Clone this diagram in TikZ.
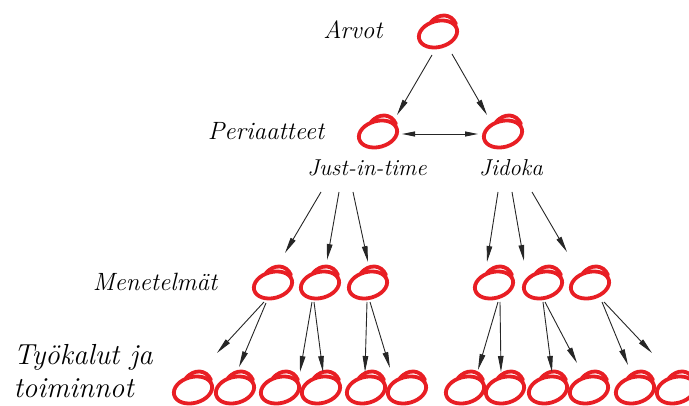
\documentclass[tikz,border=0pt]{standalone}
\usetikzlibrary{arrows.meta,calc,shapes.geometric}
\definecolor{ringred}{RGB}{232,30,36}
\tikzset{
    ringline/.style={draw=ringred,line width=3.8pt,line cap=round},
    ring/.pic={
        \node[ellipse,minimum width=40pt,minimum height=28pt,inner sep=0pt] (-c) {};
        \draw[ringline] (0,1) ellipse [x radius=19.5,y radius=13,rotate=15];
        \draw[ringline] (-7,-11) .. controls (1,-20) and (13,-20) .. (18,-9);
    },
    arr/.style={-{Triangle[length=16pt,width=5.5pt]},line width=0.9pt,draw=black!85},
    lvl/.style={font=\fontsize{25}{32}\selectfont\itshape},
    sublvl/.style={font=\fontsize{23}{28}\selectfont\itshape},
}

\begin{document}
\begin{tikzpicture}[x=1pt,y=-1pt]
    \useasboundingbox (0,0) rectangle (689,406);
    \clip (0,0) rectangle (689,406);

    % tasot
    \node[lvl] (arvot) at (353,30) {Arvot};
    \node[lvl] (periaatteet) at (266,131) {Periaatteet};
    \node[sublvl] (jit) at (367,168) {Just-in-time};
    \node[sublvl] (jidoka) at (511,168) {Jidoka};
    \node[lvl] (menetelmat) at (155,282) {Menetelmät};
    \node[lvl,font=\fontsize{29}{33}\selectfont\itshape,anchor=west,align=left]
        (tyokalut) at (10,371) {Työkalut ja\\toiminnot};

    % renkaat
    \pic (a) at (438,33) {ring};
    \pic (p1) at (378,133) {ring};
    \pic (p2) at (503,133) {ring};
    \foreach \x [count=\i] in {273,320,368,494,543,590}
        \pic (m\i) at (\x,284) {ring};
    \foreach \x [count=\i] in {193,235,280,321,366,407,465,505,548,589,635,676}
        \pic (b\i) at (\x,389) {ring};

    % nuolet
    \draw[arr] ($(a-c)+(-6,22)$) -- ($(p1-c)+(19,-18)$);
    \draw[arr] ($(a-c)+(14,21)$) -- ($(p2-c)+(-16,-18)$);
    \draw[arr,{Triangle[length=13pt,width=5pt]}-{Triangle[length=13pt,width=5pt]}]
        ($(p1-c)+(24,1)$) -- ($(p2-c)+(-25,1)$);

    \draw[arr] ($(jit)+(-46,24)$) -- ($(m1-c)+(12,-31)$);
    \draw[arr] ($(jit)+(-28,24)$) -- ($(m2-c)+(7,-24)$);
    \draw[arr] ($(jit)+(-14,24)$) -- ($(m3-c)+(0,-22)$);
    \draw[arr] ($(jidoka)+(-13,24)$) -- ($(m4-c)+(-7,-22)$);
    \draw[arr] ($(jidoka)+(1,24)$) -- ($(m5-c)+(-19,-23)$);
    \draw[arr] ($(jidoka)+(21,24)$) -- ($(m6-c)+(-23,-32)$);

    \foreach \m/\b/\sx/\sy/\ex/\ey in {
        1/1/-9/18/24/-36, 1/2/-7/19/4/-22,
        2/3/-8/18/20/-17, 2/4/-6/18/2/-17,
        3/5/-1/18/-1/-17, 3/6/2/18/-17/-21,
        4/7/4/18/13/-19, 4/8/6/18/-4/-17,
        5/9/0/18/4/-17, 5/10/2/18/-12/-26,
        6/11/12/18/-7/-24, 6/12/14/18/-24/-36}
        \draw[arr] ($(m\m-c)+(\sx,\sy)$) -- ($(b\b-c)+(\ex,\ey)$);
\end{tikzpicture}
\end{document}
